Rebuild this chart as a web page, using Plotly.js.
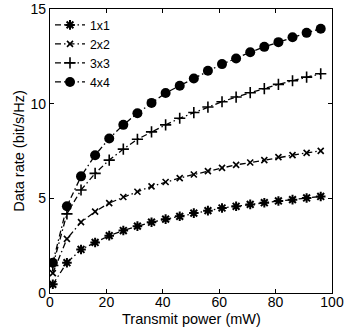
<!DOCTYPE html>
<html>
<head>
<meta charset="utf-8">
<script src="https://cdn.plot.ly/plotly-3.0.1.min.js"></script>
<style>html,body{margin:0;padding:0;background:#fff;}#chart{width:348px;height:329px;}</style>
</head>
<body>
<div id="chart"></div>
<script>
const power = [1, 6, 11, 16, 21, 26, 31, 36, 41, 46, 51, 56, 61, 66, 71, 76, 81, 86, 91, 96];
const rate1x1 = [0.46, 1.6, 2.3, 2.67, 3.03, 3.3, 3.53, 3.74, 3.9, 4.05, 4.22, 4.35, 4.49, 4.58, 4.68, 4.77, 4.86, 4.93, 5.02, 5.1];
const rate2x2 = [1.05, 2.86, 3.74, 4.3, 4.75, 5.07, 5.35, 5.63, 5.86, 6.07, 6.26, 6.44, 6.61, 6.77, 6.89, 7.02, 7.18, 7.28, 7.4, 7.51];
const rate3x3 = [1.45, 4.18, 5.44, 6.32, 7.02, 7.6, 8.12, 8.51, 8.88, 9.23, 9.53, 9.82, 10.1, 10.35, 10.58, 10.79, 11.02, 11.21, 11.4, 11.58];
const rate4x4 = [1.6, 4.58, 6.16, 7.28, 8.16, 8.88, 9.49, 10.04, 10.56, 10.95, 11.33, 11.74, 12.09, 12.39, 12.72, 13.0, 13.25, 13.51, 13.74, 13.96];
const names = ['1x1', '2x2', '3x3', '4x4'];
const xTicks = [0, 20, 40, 60, 80, 100];
const yTicks = [0, 5, 10, 15];

const series = [rate1x1, rate2x2, rate3x3, rate4x4];
const markers = [
  {symbol: 'asterisk-open', size: 8, line: {width: 2, color: '#000'}},
  {symbol: 'x-thin-open', size: 6, line: {width: 1.6, color: '#000'}},
  {symbol: 'cross-thin-open', size: 8, line: {width: 1.6, color: '#000'}},
  {symbol: 'circle', size: 10, color: '#000'}
];
const traces = series.map((ys, i) => ({
  x: power, y: ys, name: names[i], type: 'scatter', mode: 'lines+markers',
  line: {color: '#000', width: 1.3, dash: '6px,3px,1.5px,3px'},
  marker: Object.assign({color: '#000'}, markers[i])
}));

const font = {family: 'Liberation Sans, Arial, sans-serif', size: 14.5, color: '#000'};
const tickFont = {family: 'Liberation Sans, Arial, sans-serif', size: 14, color: '#000'};
const legendFont = {family: 'Liberation Sans, Arial, sans-serif', size: 12.3, color: '#000'};
const layout = {
  width: 348, height: 329,
  margin: {l: 50, r: 16, t: 9, b: 36},
  paper_bgcolor: '#fff', plot_bgcolor: '#fff',
  font: font,
  showlegend: true,
  legend: {x: 0.0, y: 0.995, xanchor: 'left', yanchor: 'top', bgcolor: 'rgba(0,0,0,0)', font: legendFont, tracegroupgap: 0, itemwidth: 30},
  xaxis: {
    range: [0, 100], tickvals: xTicks, ticktext: xTicks.map(String),
    ticks: 'inside', ticklen: 4, tickcolor: '#000', showline: true, linecolor: '#000', linewidth: 1.2,
    mirror: 'ticks', showgrid: false, zeroline: false, ticklabelstandoff: -4,
    tickfont: tickFont
  },
  yaxis: {
    range: [0, 15], tickvals: yTicks, ticktext: yTicks.map(String),
    ticks: 'inside', ticklen: 4, tickcolor: '#000', showline: true, linecolor: '#000', linewidth: 1.2,
    mirror: 'ticks', showgrid: false, zeroline: false,
    title: {text: 'Data rate (bit/s/Hz)', font: font, standoff: 2},
    tickfont: tickFont
  },
  annotations: [{
    text: 'Transmit power (mW)', xref: 'paper', yref: 'paper', x: 0.5, y: -0.09,
    xanchor: 'center', yanchor: 'middle', showarrow: false, font: font
  }]
};
Plotly.newPlot('chart', traces, layout, {displayModeBar: false, staticPlot: true});
</script>
</body>
</html>
